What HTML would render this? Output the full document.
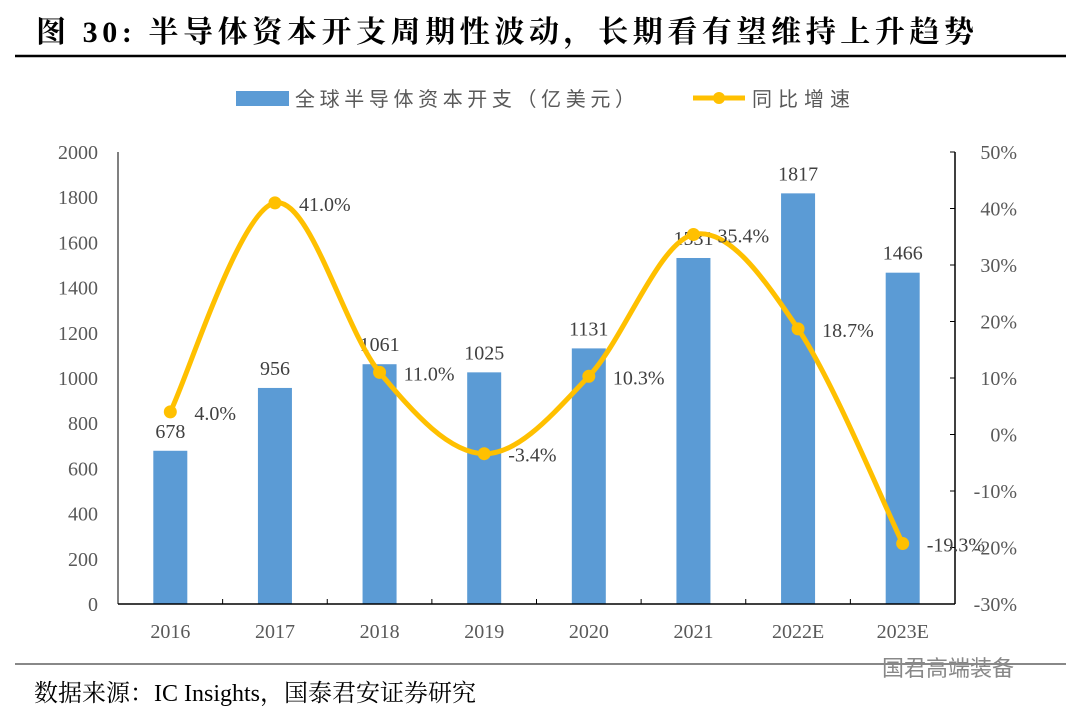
<!DOCTYPE html>
<html><head><meta charset="utf-8"><style>
body{margin:0;background:#fff;}
svg{display:block;font-family:"Liberation Serif","Noto Serif CJK SC",serif;}
</style></head><body>
<svg id="c" width="1080" height="714" viewBox="0 0 1080 714">
<text x="36" y="42" font-size="30" font-weight="bold" fill="#000" textLength="938" lengthAdjust="spacing">图 30: 半导体资本开支周期性波动，长期看有望维持上升趋势</text>
<line x1="15" y1="56" x2="1066" y2="56" stroke="#000" stroke-width="2.5"/>
<g>
<rect x="236" y="91" width="53" height="15" fill="#5b9bd5"/>
<text x="295" y="106" font-size="20" fill="#595959" textLength="340" lengthAdjust="spacing" font-family="Liberation Sans,Noto Sans CJK SC,sans-serif">全球半导体资本开支（亿美元）</text>
<line x1="693" y1="98" x2="745" y2="98" stroke="#ffc000" stroke-width="5"/>
<circle cx="719" cy="98" r="6" fill="#ffc000"/>
<text x="752" y="106" font-size="20" fill="#595959" textLength="98" lengthAdjust="spacing" font-family="Liberation Sans,Noto Sans CJK SC,sans-serif">同比增速</text>
</g>
<g id="plot"></g>
<line x1="15" y1="664" x2="1066" y2="664" stroke="#888" stroke-width="2"/>
<text x="34" y="701" font-size="24" fill="#000">数据来源：IC Insights，国泰君安证券研究</text>
<text x="882" y="676" font-size="22" fill="#888" font-family="Liberation Sans,Noto Sans CJK SC,sans-serif">国君高端装备</text>
</svg>
<script>
const categories=["2016","2017","2018","2019","2020","2021","2022E","2023E"];
const capex=[678,956,1061,1025,1131,1531,1817,1466];
const growth=[4.0,41.0,11.0,-3.4,10.3,35.4,18.7,-19.3];
const leftTicks=[0,200,400,600,800,1000,1200,1400,1600,1800,2000];
const rightTicks=[-30,-20,-10,0,10,20,30,40,50];
const NS="http://www.w3.org/2000/svg";
const g=document.getElementById('plot');
const X0=118,X1=955,Y0=604,Y1=152;
const step=(X1-X0)/categories.length;
const xc=i=>X0+step*(i+0.5);
const yL=v=>Y0-(v-0)/2000*(Y0-Y1);
const yR=v=>Y0-(v+30)/80*(Y0-Y1);
function mk(t,a,txt){const e=document.createElementNS(NS,t);for(const k in a)e.setAttribute(k,a[k]);if(txt!==undefined)e.textContent=txt;g.appendChild(e);return e;}
leftTicks.forEach(v=>{const e=mk('text',{x:98,y:yL(v)+7,'font-size':20,'text-anchor':'end',fill:'#595959'},v);

});
rightTicks.forEach(v=>{const e=mk('text',{x:1017,y:yR(v)+7,'font-size':20,'text-anchor':'end',fill:'#595959'},v+'%');


const t=mk('line',{x1:X1,x2:X1-5,y1:yR(v),y2:yR(v),stroke:'#000','stroke-width':1});

});
capex.forEach((v,i)=>{const r=mk('rect',{x:xc(i)-17,y:yL(v),width:34,height:Y0-yL(v),fill:'#5b9bd5'});


const t=mk('text',{x:xc(i),y:yL(v)-13,'font-size':20,'text-anchor':'middle',fill:'#404040'},v);


const c=mk('text',{x:xc(i),y:638,'font-size':20,'text-anchor':'middle',fill:'#595959'},categories[i]);

});
const ax=mk('line',{x1:X0,x2:X1,y1:Y0,y2:Y0,stroke:'#000','stroke-width':1.5});


const la=mk('line',{x1:X0,x2:X0,y1:Y1,y2:Y0,stroke:'#000','stroke-width':1});


const ra=mk('line',{x1:X1,x2:X1,y1:Y1,y2:Y0,stroke:'#000','stroke-width':1.5});


for(let i=0;i<=categories.length;i++){const t=mk('line',{x1:X0+step*i,x2:X0+step*i,y1:Y0,y2:Y0-5,stroke:'#000'});

}
const pts=growth.map((v,i)=>[xc(i),yR(v)]);
let d='M'+pts[0][0]+','+pts[0][1];
for(let i=0;i<pts.length-1;i++){const p0=pts[i-1]||pts[i],p1=pts[i],p2=pts[i+1],p3=pts[i+2]||p2;const k=6;
d+=` C${p1[0]+(p2[0]-p0[0])/k},${p1[1]+(p2[1]-p0[1])/k} ${p2[0]-(p3[0]-p1[0])/k},${p2[1]-(p3[1]-p1[1])/k} ${p2[0]},${p2[1]}`;}
const ln=mk('path',{d:d,fill:'none',stroke:'#ffc000','stroke-width':5});


pts.forEach((p,i)=>{const c=mk('circle',{cx:p[0],cy:p[1],r:6.5,fill:'#ffc000'});


const t=mk('text',{x:p[0]+24,y:p[1]+8,'font-size':20,fill:'#404040'},growth[i].toFixed(1)+'%');

});
</script>
</body></html>
